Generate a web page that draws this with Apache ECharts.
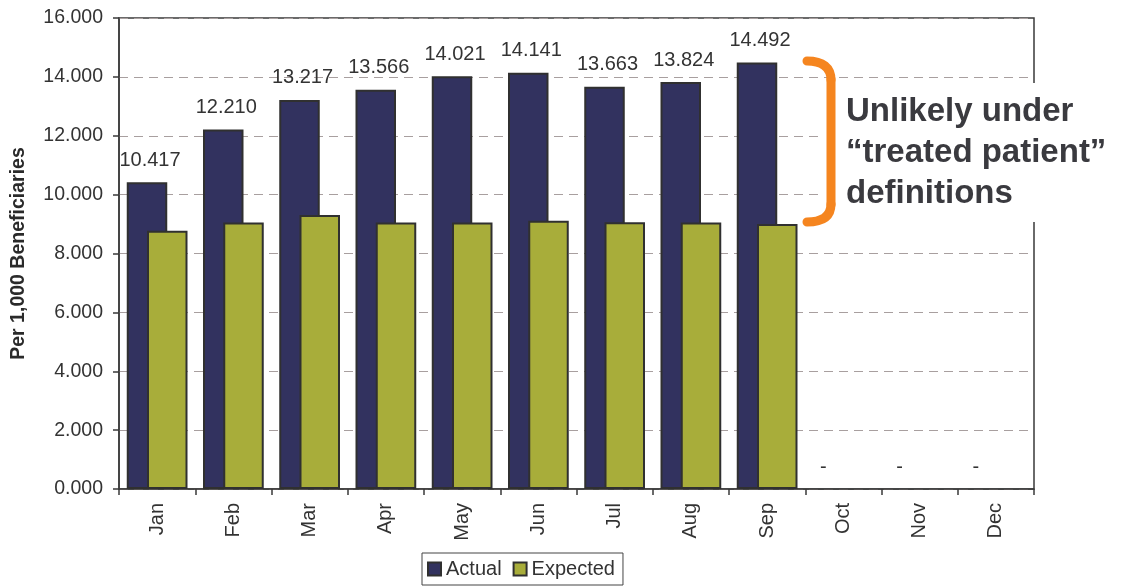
<!DOCTYPE html>
<html>
<head>
<meta charset="utf-8">
<script src="https://cdn.jsdelivr.net/npm/echarts@6/dist/echarts.min.js"></script>
<style>
  html, body { margin: 0; padding: 0; background: #fff; }
  #chart { width: 1125px; height: 587px; }
</style>
</head>
<body>
<div id="chart"></div>
<script>
// Monthly rates per 1,000 beneficiaries
const months = ['Jan', 'Feb', 'Mar', 'Apr', 'May', 'Jun', 'Jul', 'Aug', 'Sep', 'Oct', 'Nov', 'Dec'];
const actual = [10.417, 12.210, 13.217, 13.566, 14.021, 14.141, 13.663, 13.824, 14.492, 0, 0, 0];
const expected = [8.77, 9.05, 9.31, 9.05, 9.05, 9.11, 9.06, 9.05, 9.00, null, null, null];
const yTicks = { min: 0, max: 16, step: 2 };
const noteLines = ['Unlikely under', '\u201Ctreated patient\u201D', 'definitions'];

const FONT = '"Liberation Sans", Arial, Helvetica, sans-serif';
const INK = '#333333';

const chart = echarts.init(document.getElementById('chart'), null, { renderer: 'canvas' });

// Zero months read "-" (accounting style), slightly left of the bar centre
const actualData = actual.map(v => v === 0
  ? { value: v, label: { offset: [-10, 0] }, itemStyle: { borderWidth: 0 } }
  : { value: v });

const noteText = noteLines.map((line, i) => ({
  type: 'text',
  z: 102,
  x: 846,
  y: 112 + i * 41,
  style: {
    text: line,
    font: 'bold 33px ' + FONT,
    fill: '#3a3a3f',
    textAlign: 'left',
    textVerticalAlign: 'middle'
  }
}));

const braceStyle = { fill: null, stroke: '#f5851f', lineWidth: 9, lineCap: 'round', lineJoin: 'round' };

chart.setOption({
  animation: false,
  backgroundColor: '#ffffff',
  textStyle: { fontFamily: FONT },
  grid: {
    left: 119, right: 91, top: 18, bottom: 98,
    show: true,
    borderColor: '#3a3a3a',
    borderWidth: 1.5,
    backgroundColor: 'transparent',
    outerBoundsMode: 'none'
  },
  legend: {
    data: ['Actual', 'Expected'],
    left: 422,
    top: 553,
    icon: 'rect',
    itemWidth: 13,
    itemHeight: 13,
    itemGap: 11,
    padding: [6, 8, 6, 5],
    borderColor: '#444',
    borderWidth: 1,
    backgroundColor: '#fff',
    textStyle: { fontSize: 20, color: INK, fontFamily: FONT }
  },
  xAxis: {
    type: 'category',
    data: months,
    boundaryGap: true,
    axisLine: { show: true, lineStyle: { color: '#3a3a3a', width: 1.5 } },
    axisTick: { show: true, length: 6, interval: 0, lineStyle: { color: '#3a3a3a', width: 1.5 } },
    axisLabel: { rotate: 90, margin: 14, interval: 0, fontSize: 20, color: INK, fontFamily: FONT }
  },
  yAxis: {
    type: 'value',
    min: yTicks.min,
    max: yTicks.max,
    interval: yTicks.step,
    name: 'Per 1,000 Beneficiaries',
    nameLocation: 'middle',
    nameGap: 90,
    nameTextStyle: { fontSize: 19.5, fontWeight: 'bold', color: '#2a2a2a', fontFamily: FONT },
    axisLine: { show: true, lineStyle: { color: '#3a3a3a', width: 1.5 } },
    axisTick: { show: true, length: 6, lineStyle: { color: '#3a3a3a', width: 1.5 } },
    axisLabel: {
      fontSize: 19.5, color: INK, margin: 16, fontFamily: FONT,
      formatter: v => v.toFixed(3)
    },
    splitLine: { show: true, lineStyle: { color: '#a89f9f', type: [9, 6], width: 1 } }
  },
  series: [
    {
      name: 'Actual',
      type: 'bar',
      data: actualData,
      barWidth: 40.5,
      barGap: '-50%',
      itemStyle: { color: '#32325f', borderColor: '#303030', borderWidth: 2 },
      label: {
        show: true,
        position: 'top',
        distance: 12,
        offset: [3, 0],
        fontSize: 20,
        color: INK,
        fontFamily: FONT,
        formatter: p => (p.value === 0 ? '-' : p.value.toFixed(3))
      }
    },
    {
      name: 'Expected',
      type: 'bar',
      data: expected,
      barWidth: 40.5,
      itemStyle: { color: '#a8ad3a', borderColor: '#303030', borderWidth: 2 }
    }
  ],
  graphic: [
    // white panel behind the note
    {
      type: 'rect',
      z: 100,
      shape: { x: 818, y: 83, width: 307, height: 139 },
      style: { fill: '#ffffff' }
    },
    // orange bracket spanning the gap: top hook, upright, bottom hook
    {
      type: 'bezierCurve',
      z: 101,
      shape: { x1: 807, y1: 61, cpx1: 831, cpy1: 61, x2: 831, y2: 80 },
      style: braceStyle
    },
    {
      type: 'line',
      z: 101,
      shape: { x1: 831, y1: 79, x2: 831, y2: 205 },
      style: braceStyle
    },
    {
      type: 'bezierCurve',
      z: 101,
      shape: { x1: 831, y1: 204, cpx1: 831, cpy1: 222, x2: 807, y2: 222 },
      style: braceStyle
    }
  ].concat(noteText)
});
</script>
</body>
</html>
